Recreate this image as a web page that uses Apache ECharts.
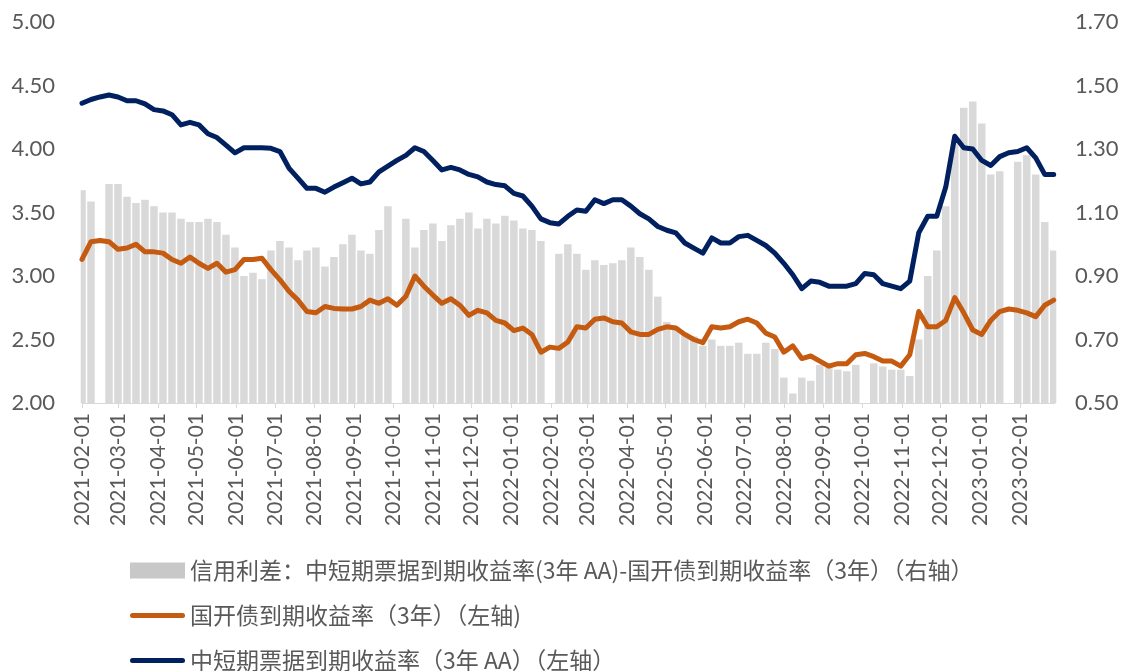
<!DOCTYPE html>
<html>
<head>
<meta charset="utf-8">
<script src="https://cdn.jsdelivr.net/npm/echarts@6/dist/echarts.min.js"></script>
<style>
  html, body { margin: 0; padding: 0; background: #fff; }
  #chart { width: 1123px; height: 671px; }
</style>
</head>
<body>
<div id="chart"></div>
<script>
// daily axis, one reading per week (Mondays from startDate)
const startDate = '2021-02-01';
const endDate = '2023-02-28';

// 中短期票据到期收益率（3年 AA），左轴
const mtnYield = [
  4.36, 4.39, 4.41, 4.425, 4.41, 4.38, 4.38, 4.355, 4.31, 4.30,
  4.27, 4.19, 4.21, 4.19, 4.12, 4.09, 4.03, 3.97, 4.01, 4.01,
  4.01, 4.005, 3.98, 3.85, 3.77, 3.69, 3.69, 3.66, 3.70, 3.735,
  3.77, 3.725, 3.74, 3.82, 3.865, 3.91, 3.95, 4.01, 3.98, 3.91,
  3.835, 3.855, 3.835, 3.80, 3.78, 3.74, 3.72, 3.71, 3.65, 3.63,
  3.55, 3.45, 3.42, 3.41, 3.47, 3.52, 3.51, 3.60, 3.57, 3.60,
  3.60, 3.55, 3.49, 3.45, 3.39, 3.36, 3.34, 3.26, 3.22, 3.18,
  3.30, 3.26, 3.26, 3.31, 3.32, 3.28, 3.24, 3.18, 3.10, 3.01,
  2.90, 2.96, 2.95, 2.92, 2.92, 2.92, 2.94, 3.02, 3.01, 2.94,
  2.92, 2.90, 2.96, 3.34, 3.47, 3.47, 3.70, 4.10, 4.01, 4.00,
  3.91, 3.87, 3.94, 3.97, 3.98, 4.01, 3.93, 3.80, 3.80
];

// 国开债到期收益率（3年），左轴
const cdbYield = [
  3.13, 3.27, 3.28, 3.27, 3.21, 3.22, 3.25, 3.19, 3.19, 3.18,
  3.13, 3.10, 3.15, 3.10, 3.06, 3.10, 3.03, 3.05, 3.13, 3.13,
  3.14, 3.05, 2.97, 2.88, 2.81, 2.72, 2.71, 2.76, 2.745, 2.74,
  2.74, 2.76, 2.81, 2.785, 2.82, 2.77, 2.84, 3.00, 2.92, 2.85,
  2.785, 2.82, 2.77, 2.69, 2.73, 2.71, 2.65, 2.63, 2.57, 2.59,
  2.54, 2.40, 2.44, 2.43, 2.48, 2.60, 2.59, 2.66, 2.67, 2.64,
  2.63, 2.56, 2.54, 2.54, 2.58, 2.60, 2.59, 2.54, 2.50, 2.475,
  2.60, 2.59, 2.60, 2.64, 2.66, 2.63, 2.55, 2.52, 2.40, 2.45,
  2.35, 2.37, 2.33, 2.29, 2.31, 2.31, 2.38, 2.39, 2.365, 2.33,
  2.33, 2.29, 2.38, 2.72, 2.60, 2.60, 2.65, 2.83, 2.71, 2.575,
  2.54, 2.65, 2.72, 2.74, 2.73, 2.71, 2.68, 2.77, 2.81
];

// 信用利差，右轴（null = 假期无数据）
const creditSpread = [
  1.17, 1.135, null, 1.19, 1.19, 1.15, 1.13, 1.14, 1.12, 1.10,
  1.10, 1.08, 1.07, 1.07, 1.08, 1.07, 1.03, 0.99, 0.90, 0.91,
  0.89, 0.98, 1.01, 0.99, 0.95, 0.98, 0.99, 0.93, 0.96, 1.00,
  1.03, 0.98, 0.97, 1.045, 1.12, null, 1.08, 0.99, 1.045, 1.065,
  1.01, 1.06, 1.08, 1.10, 1.05, 1.08, 1.065, 1.09, 1.075, 1.05,
  1.045, 1.01, null, 0.97, 1.00, 0.97, 0.92, 0.95, 0.935, 0.94,
  0.95, 0.99, 0.96, 0.92, 0.835, 0.755, 0.74, 0.72, 0.71, 0.68,
  0.70, 0.68, 0.68, 0.69, 0.655, 0.655, 0.69, 0.67, 0.58, 0.53,
  0.58, 0.57, 0.62, 0.625, 0.605, 0.60, 0.62, null, 0.625, 0.615,
  0.605, 0.605, 0.585, 0.70, 0.90, 0.98, 1.12, 1.33, 1.43, 1.45,
  1.38, 1.22, 1.23, null, 1.26, 1.28, 1.22, 1.07, 0.98
];

const leftAxis = { min: 2, max: 5, interval: 0.5 };
const rightAxis = { min: 0.5, max: 1.7, interval: 0.2 };

const seriesNames = [
  '信用利差：中短期票据到期收益率(3年 AA)-国开债到期收益率（3年）（右轴）',
  '国开债到期收益率（3年）（左轴)',
  '中短期票据到期收益率（3年 AA）（左轴）'
];

function fmt(d) {
  return d.toISOString().slice(0, 10);
}

// 日历日类目
const days = [];
for (let d = new Date(startDate + 'T00:00:00Z'); fmt(d) <= endDate; d.setUTCDate(d.getUTCDate() + 1)) {
  days.push(fmt(d));
}
const weekDates = mtnYield.map((v, i) => {
  const d = new Date(startDate + 'T00:00:00Z');
  d.setUTCDate(d.getUTCDate() + 7 * i);
  return fmt(d);
});

const font = "Lato, 'Noto Sans CJK SC', sans-serif";
const isMonthStart = (idx, value) => value.slice(8) === '01';
const lineIcon = 'path://M2.5,0H52.5A2.5,2.5,0,0,1,52.5,5H2.5A2.5,2.5,0,0,1,2.5,0Z';

const option = {
  animation: false,
  textStyle: { fontFamily: font },
  grid: { left: 82, right: 68, top: 22, bottom: 268 },
  legend: {
    orient: 'vertical',
    left: 130,
    top: 559,
    height: 160,
    padding: 0,
    itemGap: 22,
    itemWidth: 55,
    itemHeight: 16,
    textStyle: { fontSize: 23, color: '#595959', fontFamily: "'Noto Sans CJK SC', sans-serif" },
    data: [
      { name: seriesNames[0], icon: 'rect', itemStyle: { color: '#C8C8C8' } },
      { name: seriesNames[1], icon: lineIcon },
      { name: seriesNames[2], icon: lineIcon }
    ]
  },
  xAxis: {
    type: 'category',
    data: days,
    boundaryGap: false,
    axisLine: { lineStyle: { color: '#D9D9D9', width: 1 } },
    axisTick: { interval: isMonthStart, length: 5, lineStyle: { color: '#D9D9D9' } },
    axisLabel: {
      interval: isMonthStart,
      rotate: 90,
      margin: 10,
      fontSize: 21,
      color: '#595959'
    },
    splitLine: { show: false }
  },
  yAxis: [
    {
      type: 'value',
      min: leftAxis.min, max: leftAxis.max, interval: leftAxis.interval,
      axisLine: { show: false },
      axisTick: { show: false },
      splitLine: { show: false },
      axisLabel: { fontSize: 22, color: '#595959', margin: 27, formatter: v => v.toFixed(2) }
    },
    {
      type: 'value',
      min: rightAxis.min, max: rightAxis.max, interval: rightAxis.interval,
      axisLine: { show: false },
      axisTick: { show: false },
      splitLine: { show: false },
      axisLabel: { fontSize: 22, color: '#595959', margin: 20, formatter: v => v.toFixed(2) }
    }
  ],
  series: [
    {
      name: seriesNames[0],
      type: 'bar',
      yAxisIndex: 1,
      barWidth: 7.5,
      itemStyle: { color: '#D9D9D9' },
      data: weekDates.map((d, i) => [d, creditSpread[i]])
    },
    {
      name: seriesNames[1],
      type: 'line',
      yAxisIndex: 0,
      showSymbol: false,
      itemStyle: { color: '#C55A11' },
      lineStyle: { color: '#C55A11', width: 5, cap: 'round', join: 'round' },
      data: weekDates.map((d, i) => [d, cdbYield[i]])
    },
    {
      name: seriesNames[2],
      type: 'line',
      yAxisIndex: 0,
      showSymbol: false,
      itemStyle: { color: '#002060' },
      lineStyle: { color: '#002060', width: 5, cap: 'round', join: 'round' },
      data: weekDates.map((d, i) => [d, mtnYield[i]])
    }
  ]
};

const myChart = echarts.init(document.getElementById('chart'));
myChart.setOption(option);
window.addEventListener('resize', () => {
  myChart.resize();
});
</script>
</body>
</html>
